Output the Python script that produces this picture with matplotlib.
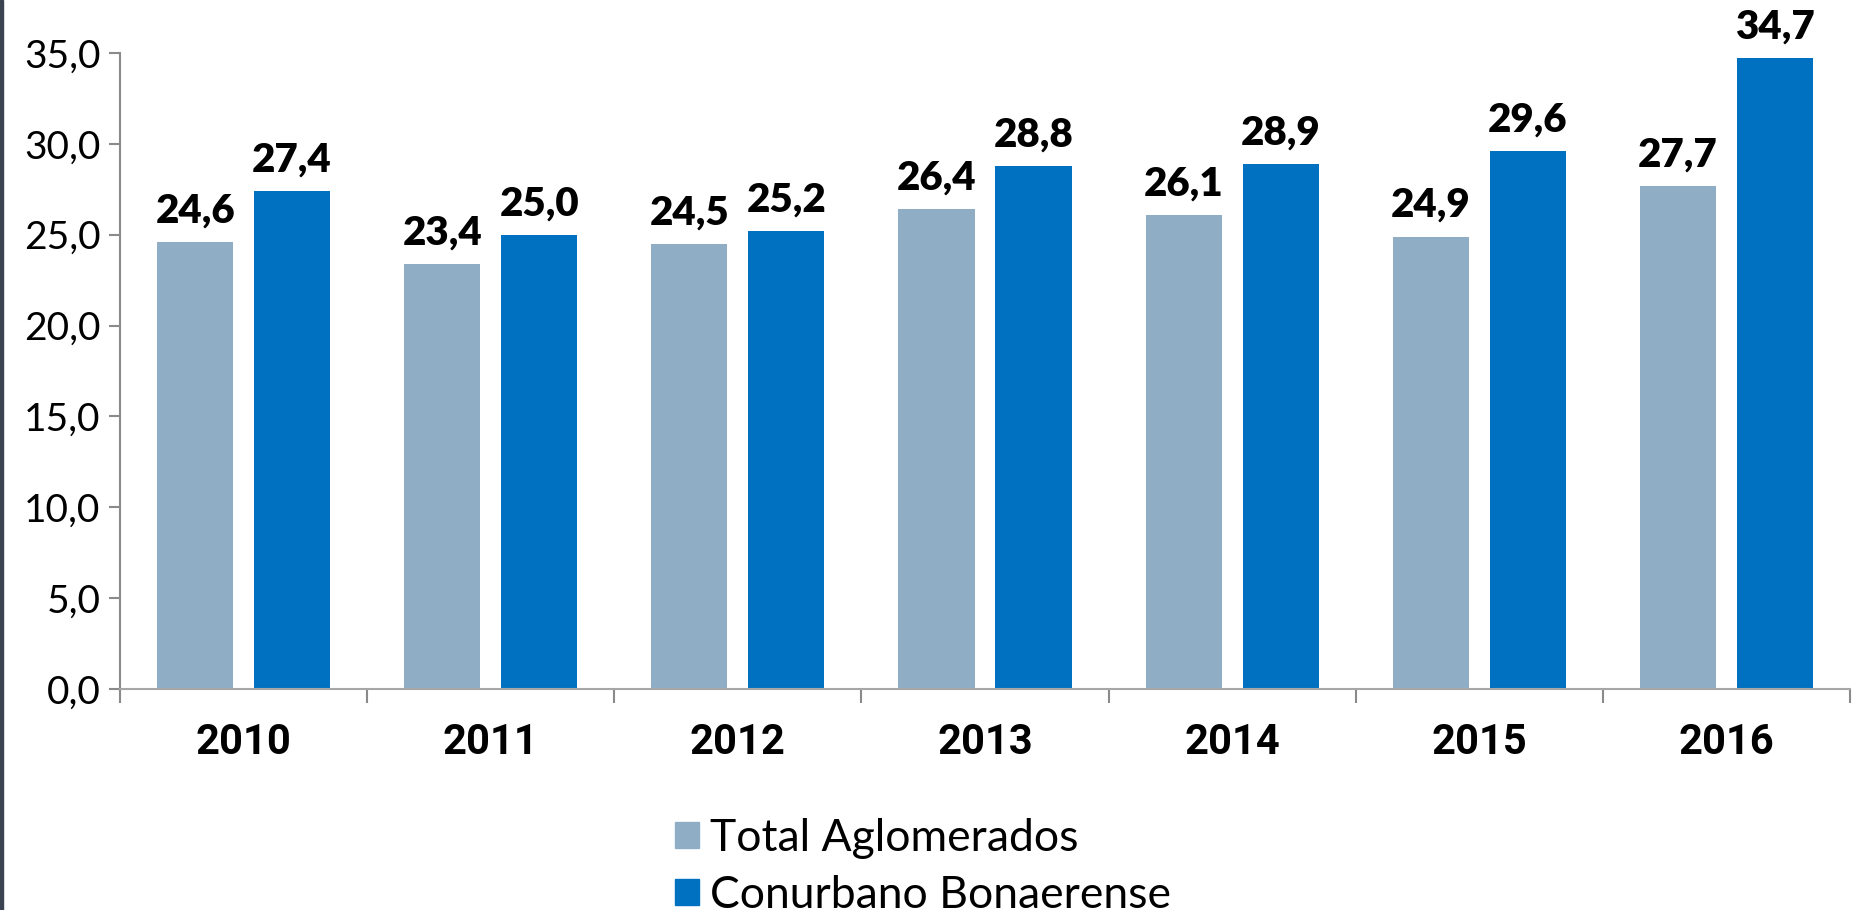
import matplotlib.pyplot as plt
import numpy as np
from matplotlib.patches import Patch, Rectangle

years = ["2010", "2011", "2012", "2013", "2014", "2015", "2016"]
total_aglomerados = [24.6, 23.4, 24.5, 26.4, 26.1, 24.9, 27.7]
conurbano = [27.4, 25.0, 25.2, 28.8, 28.9, 29.6, 34.7]
series_names = ["Total Aglomerados", "Conurbano Bonaerense"]
yticks = [0, 5, 10, 15, 20, 25, 30, 35]

light = "#8FAEC6"
dark = "#0070C0"
axis_gray = "#8a8a8a"


def fmt(v):
    return f"{v:.1f}".replace(".", ",")


fig = plt.figure(figsize=(18.56, 9.10), dpi=100)
ax = fig.add_axes([120 / 1856, 1 - 689 / 910, 1730 / 1856, 636 / 910])

x = np.arange(len(years))
w = 0.308
off = 0.196
b1 = ax.bar(x - off, total_aglomerados, w, color=light)
b2 = ax.bar(x + off, conurbano, w, color=dark)

for bars, vals in [(b1, total_aglomerados), (b2, conurbano)]:
    for rect, v in zip(bars, vals):
        ax.annotate(fmt(v), (rect.get_x() + rect.get_width() / 2, v),
                    xytext=(0, 9), textcoords="offset points",
                    ha="center", va="bottom", fontsize=29, fontweight="heavy",
                    family="Lato", clip_on=False)

ax.set_xlim(-0.5, len(years) - 0.5)
ax.set_ylim(0, 35)

ax.set_yticks(yticks)
ax.set_yticklabels([fmt(t) for t in yticks], fontsize=28, family="Lato")
ax.tick_params(axis="y", length=8, width=1.5, color=axis_gray, pad=6)

ax.set_xticks(np.arange(len(years) + 1) - 0.5)
ax.set_xticklabels([])
ax.set_xticks(x, minor=True)
ax.set_xticklabels(years, minor=True, fontsize=30, fontweight="bold", family="Roboto")
ax.tick_params(axis="x", which="major", length=10, width=1.5, color=axis_gray)
ax.tick_params(axis="x", which="minor", length=0, pad=24)

for s in ["top", "right"]:
    ax.spines[s].set_visible(False)
ax.spines["left"].set_color(axis_gray)
ax.spines["left"].set_linewidth(1.5)
ax.spines["bottom"].set_color("#a6a6a6")
ax.spines["bottom"].set_linewidth(1.5)

handles = [Patch(color=light), Patch(color=dark)]
fig.legend(handles, series_names, loc="upper left",
           bbox_to_anchor=(675 / 1856, 1 - 818 / 910), frameon=False,
           prop={"family": "Lato", "size": 32},
           handlelength=0.54, handleheight=0.52, handletextpad=0.25,
           labelspacing=0.35, borderaxespad=0, borderpad=0)

fig.add_artist(Rectangle((0, 0), 2.5 / 1856, 1, transform=fig.transFigure,
                         color="#3b4352", clip_on=False))

fig.savefig("out.png", dpi=100)
